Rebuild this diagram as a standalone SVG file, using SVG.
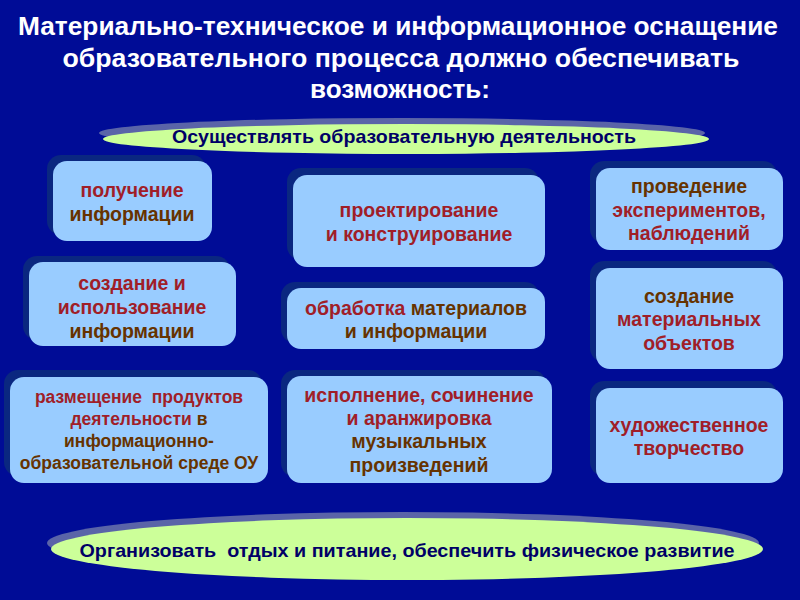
<svg xmlns="http://www.w3.org/2000/svg" width="800" height="600" viewBox="0 0 800 600">
<style>
.title{font-family:"Liberation Sans",Arial,sans-serif;font-weight:bold;font-size:25px;fill:#ffffff;text-anchor:middle}
.ell{font-family:"Liberation Sans",Arial,sans-serif;font-weight:bold;font-size:19px;fill:#000066;text-anchor:middle;white-space:pre}
.box{fill:#99CCFF}
.sh{fill:#0A2780}
.t{font-family:"Liberation Sans",Arial,sans-serif;font-weight:bold;font-size:19.5px;text-anchor:middle;white-space:pre}
.s{font-size:17.5px}
.r{fill:#A01E28}
.b{fill:#663300}
</style>
<rect width="800" height="600" fill="#000C96"/>
<g id="title">
<text class="title" x="398" y="35" textLength="760" lengthAdjust="spacingAndGlyphs">Материально-техническое и информационное оснащение</text>
<text class="title" x="401" y="67" textLength="677" lengthAdjust="spacingAndGlyphs">образовательного процесса должно обеспечивать</text>
<text class="title" x="400" y="98" textLength="180" lengthAdjust="spacingAndGlyphs">возможность:</text>
</g>
<g id="top-ellipse">
<ellipse cx="402" cy="133" rx="303" ry="15" fill="#5A64A8"/>
<ellipse cx="406" cy="139" rx="303" ry="15" fill="#CCFF99"/>
<text class="ell" x="404" y="143" textLength="464" lengthAdjust="spacingAndGlyphs">Осуществлять образовательную деятельность</text>
</g>
<g id="n1">
<rect class="sh" x="47" y="155" width="159" height="80" rx="14"/>
<rect class="box" x="53" y="161" width="159" height="80" rx="14"/>
<text class="t r" x="132" y="197">получение</text>
<text class="t b" x="132" y="221">информации</text>
</g>
<g id="n2">
<rect class="sh" x="23" y="256" width="207" height="84" rx="14"/>
<rect class="box" x="29" y="262" width="207" height="84" rx="14"/>
<text class="t r" x="132" y="290">создание и</text>
<text class="t r" x="132" y="314">использование</text>
<text class="t b" x="132" y="338">информации</text>
</g>
<g id="n3">
<rect class="sh" x="4" y="370" width="258" height="106" rx="14"/>
<rect class="box" x="10" y="377" width="258" height="106" rx="14"/>
<text class="t s r" x="139" y="403">размещение  продуктов</text>
<text class="t s" x="139" y="425"><tspan class="r">деятельности</tspan><tspan class="b"> в</tspan></text>
<text class="t s b" x="139" y="447">информационно-</text>
<text class="t s b" x="139" y="469">образовательной среде ОУ</text>
</g>
<g id="n4">
<rect class="sh" x="287" y="168" width="252" height="92" rx="14"/>
<rect class="box" x="293" y="175" width="252" height="92" rx="14"/>
<text class="t r" x="419" y="217">проектирование</text>
<text class="t r" x="419" y="241">и конструирование</text>
</g>
<g id="n5">
<rect class="sh" x="281" y="282" width="258" height="61" rx="14"/>
<rect class="box" x="287" y="288" width="258" height="61" rx="14"/>
<text class="t" x="416" y="315"><tspan class="r">обработка</tspan><tspan class="b"> материалов</tspan></text>
<text class="t b" x="416" y="338">и информации</text>
</g>
<g id="n6">
<rect class="sh" x="281" y="370" width="265" height="107" rx="14"/>
<rect class="box" x="287" y="376" width="265" height="107" rx="14"/>
<text class="t r" x="419" y="402">исполнение, сочинение</text>
<text class="t r" x="419" y="425">и аранжировка</text>
<text class="t b" x="419" y="448">музыкальных</text>
<text class="t b" x="419" y="472">произведений</text>
</g>
<g id="n7">
<rect class="sh" x="590" y="161" width="187" height="82" rx="14"/>
<rect class="box" x="596" y="168" width="187" height="82" rx="14"/>
<text class="t b" x="689" y="193">проведение</text>
<text class="t r" x="689" y="217">экспериментов,</text>
<text class="t r" x="689" y="240">наблюдений</text>
</g>
<g id="n8">
<rect class="sh" x="590" y="261" width="187" height="101" rx="14"/>
<rect class="box" x="596" y="268" width="187" height="101" rx="14"/>
<text class="t b" x="689" y="303">создание</text>
<text class="t r" x="689" y="326">материальных</text>
<text class="t r" x="689" y="350">объектов</text>
</g>
<g id="n9">
<rect class="sh" x="590" y="381" width="187" height="95" rx="14"/>
<rect class="box" x="596" y="388" width="187" height="95" rx="14"/>
<text class="t r" x="689" y="432">художественное</text>
<text class="t r" x="689" y="455">творчество</text>
</g>
<g id="bottom-ellipse">
<ellipse cx="403" cy="543" rx="356" ry="31" fill="#5A64A8"/>
<ellipse cx="407" cy="549" rx="356" ry="31" fill="#CCFF99"/>
<text class="ell" x="407" y="557" textLength="655" lengthAdjust="spacingAndGlyphs">Организовать  отдых и питание, обеспечить физическое развитие</text>
</g>
<g id="connectors"/>
</svg>
